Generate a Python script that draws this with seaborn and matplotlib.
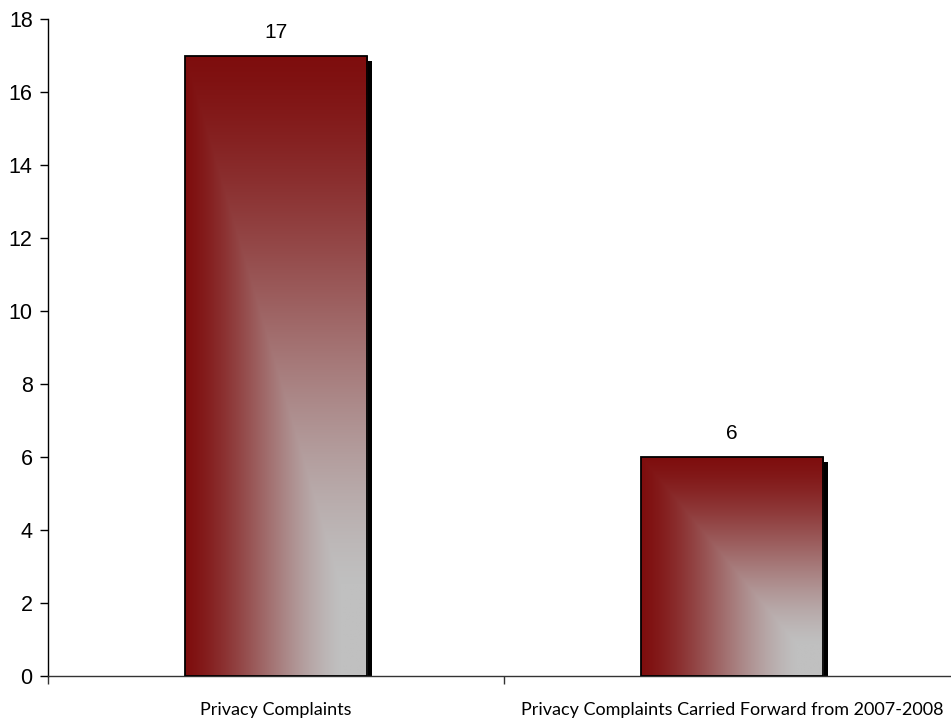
import numpy as np
import pandas as pd
import matplotlib
matplotlib.use("Agg")
import matplotlib.pyplot as plt
import matplotlib.transforms as mtransforms
from matplotlib.patches import Rectangle
from matplotlib.colors import to_rgb
import seaborn as sns

# Chart data
categories = ["Privacy Complaints", "Privacy Complaints Carried Forward from 2007-2008"]
complaints = [17, 6]
y_ticks = [0, 2, 4, 6, 8, 10, 12, 14, 16, 18]

df = pd.DataFrame({"category": categories, "count": complaints})

sns.set_theme(style="white")
plt.rcParams["font.family"] = ["Liberation Sans", "DejaVu Sans"]

W, H = 951, 722
fig = plt.figure(figsize=(W / 100, H / 100), dpi=100)
ax = fig.add_axes([48 / W, 46 / H, 912 / W, 657 / H])

sns.barplot(data=df, x="category", y="count", ax=ax, width=0.40,
            color="#800000", saturation=1, zorder=2)

ax.set_ylim(0, 18)
ax.set_xlim(-0.5, 1.5)
ax.set_yticks(y_ticks)
ax.set_xlabel("")
ax.set_ylabel("")

# Corner gradient: dark red along top and left edges, fading to silver at bottom-right
red = np.array(to_rgb("#7e0d0d"))
silver = np.array(to_rgb("#c0c0c0"))
ny, nx = 400, 200
u = np.linspace(0, 1, nx)[None, :]
v = np.linspace(0, 1, ny)[:, None]
s = np.clip(np.minimum(u, v) / 0.85, 0, 1)
t = s * s * (3 - 2 * s) * 0.5 + s * 0.5
grad = red[None, None, :] + (silver - red)[None, None, :] * t[:, :, None]

shadow_offset = mtransforms.ScaledTranslation(5 / 100, -5 / 100, fig.dpi_scale_trans)
for bar in list(ax.patches):
    x0, y0 = bar.get_x(), bar.get_y()
    w, h = bar.get_width(), bar.get_height()
    # Drop shadow behind each bar
    ax.add_patch(Rectangle((x0, y0), w, h, facecolor="black", edgecolor="none",
                           transform=ax.transData + shadow_offset, zorder=1))
    img = ax.imshow(grad, extent=(x0, x0 + w, y0, y0 + h), origin="upper",
                    aspect="auto", zorder=2, interpolation="bilinear")
    img.set_clip_path(bar)
    bar.set_facecolor("none")
    bar.set_edgecolor("black")
    bar.set_linewidth(1.3)
    bar.set_zorder(3)
    ax.text(x0 + w / 2, y0 + h + 0.38, f"{h:g}", ha="center", va="bottom",
            fontsize=15, color="black")

ax.set_aspect("auto")
ax.set_xlim(-0.5, 1.5)
ax.set_ylim(0, 18)

# Spines and ticks
for side in ["top", "right"]:
    ax.spines[side].set_visible(False)
ax.spines["left"].set_color("black")
ax.spines["left"].set_linewidth(1.0)
ax.spines["bottom"].set_color("#333333")
ax.spines["bottom"].set_linewidth(1.0)

ax.tick_params(axis="y", which="major", direction="out", length=6, width=1.0,
               color="black", labelsize=15.5, labelcolor="black", pad=5, left=True)
ax.set_xticks([-0.5, 0.5, 1.5], minor=True)
ax.tick_params(axis="x", which="minor", direction="out", length=6, width=1.0,
               color="#333333", bottom=True)
ax.tick_params(axis="x", which="major", length=0, pad=19, labelsize=13,
               labelcolor="black")
for lab in ax.get_xticklabels():
    lab.set_fontfamily(["Lato", "DejaVu Sans"])

ax.grid(False)
fig.savefig("out.png", dpi=100)
